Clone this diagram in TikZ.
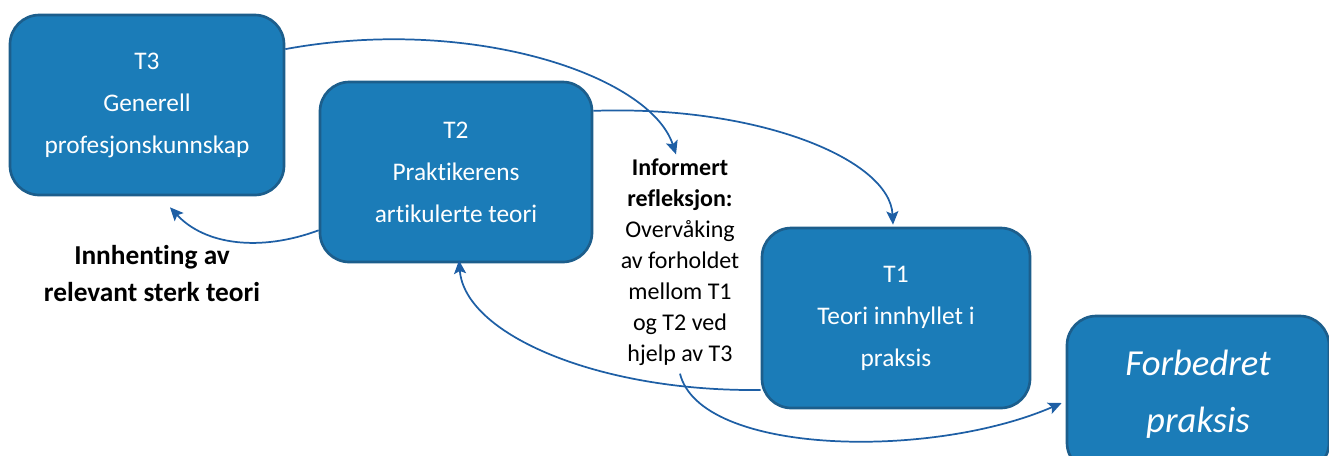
\documentclass[tikz,border=0pt]{standalone}
\usepackage{fontspec}
\setmainfont[Ligatures=NoCommon]{Carlito}
\usetikzlibrary{arrows.meta,calc}
\definecolor{boxfill}{RGB}{27,124,184}
\definecolor{boxline}{RGB}{28,94,140}
\definecolor{arrowc}{RGB}{30,95,165}
\begin{document}
\begin{tikzpicture}[x=0.75pt,y=-0.75pt,
  box/.style={draw=boxline,line width=2pt,fill=boxfill,rounded corners=22pt,
    text=white,align=center,inner sep=0pt,
    font=\fontsize{19}{31.5}\selectfont},
  conn/.style={draw=arrowc,line width=1.3pt,-{Stealth[length=10pt,width=9pt,inset=2pt]}},
  lbl/.style={align=center,text=black,inner sep=0pt}]
\useasboundingbox (0,0) rectangle (1329,455);
\clip (0,0) rectangle (1329,455);
\node[box,minimum width=274*0.75pt,minimum height=180*0.75pt] (t3) at (147,105)
  {T3\\Generell\\profesjonskunnskap};
\node[box,minimum width=272*0.75pt,minimum height=180*0.75pt] (t2) at (456,172)
  {T2\\Praktikerens\\artikulerte teori};
\node[box,minimum width=268*0.75pt,minimum height=180*0.75pt] (t1) at (896,318)
  {T1\\Teori innhyllet i\\praksis};
\node[box,minimum width=262*0.75pt,minimum height=156*0.75pt,
  font=\fontsize{27.5}{43}\selectfont\itshape] (fp) at (1198,394)
  {Forbedret\\praksis};
\node[lbl,font=\fontsize{18}{23.25}\selectfont] (refl) at (680,262)
  {\textbf{Informert}\\\textbf{refleksjon:}\\Overvåking\\av forholdet\\mellom T1\\og T2 ved\\hjelp av T3};
\node[lbl,font=\fontsize{20.5}{27.75}\selectfont\bfseries] (innh) at (152,274)
  {Innhenting av\\relevant sterk teori};
\coordinate (a1end) at ($(refl.north)+(-4,-4)$);
\coordinate (a3end) at ($(t3.south)+(23,11)$);
\coordinate (a5start) at ($(refl.south)+(0,8)$);
\coordinate (a5end) at ($(fp.west)+(-4,9)$);
\draw[conn] (t3.22) .. controls (470,15) and (650,75) .. (a1end);
\draw[conn] (t2.24) .. controls (760,105) and (890,160) .. ($(t1.north)+(-3,-2)$);
\draw[conn] (t2.203) .. controls (260,252) and (205,245) .. (a3end);
\draw[conn] (t1.208) .. controls (600,392) and (465,335) .. ($(t2.south)+(3,-3)$);
\draw[conn] (a5start) .. controls (700,455) and (930,460) .. (a5end);
\end{tikzpicture}
\end{document}
